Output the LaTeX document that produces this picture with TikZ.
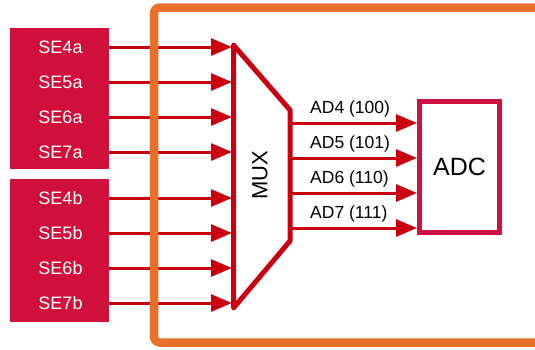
\documentclass[tikz,border=0pt]{standalone}
\usepackage{fontspec}
\setmainfont{Liberation Sans}
\usepackage{xcolor}
\usepackage{tikz}
\usetikzlibrary{arrows.meta}
\definecolor{boxred}{HTML}{D0103A}
\definecolor{wirered}{HTML}{CA0010}
\definecolor{frameorange}{HTML}{E8702A}
\definecolor{adcred}{HTML}{CE1142}
\tikzset{
  wire/.style={draw=wirered, line width=3pt,
               -{Triangle[length=21pt, width=17pt]}},
  sebox/.style={rectangle, fill=boxred, minimum width=99pt, inner sep=0pt},
  selabel/.style={text=white, font=\fontsize{18}{20}\selectfont, inner sep=0pt},
  adlabel/.style={font=\fontsize{17.5}{20}\selectfont, inner sep=0pt}}

\begin{document}
\begin{tikzpicture}[x=1pt, y=-1pt]
  \clip (0,0) rectangle (535,349);
  \fill[white] (0,0) rectangle (535,349);
  % 1: the two groups of inputs
  \node[sebox, minimum height=141pt] (boxa) at (59.5,98.5) {};
  \node[sebox, minimum height=143pt] (boxb) at (59.5,250.5) {};
  % 2: the multiplexer
  \coordinate (muxtl) at (233.5,45);
  \coordinate (muxtr) at (290,110);
  \coordinate (muxbr) at (290,241);
  \coordinate (muxbl) at (233.5,308);
  \draw[wirered, line width=5pt, line join=round] (muxtl) -- (muxtr) -- (muxbr) -- (muxbl) -- cycle;
  \node[rotate=90, font=\fontsize{22}{24}\selectfont, inner sep=0pt] (mux) at (260,175) {MUX};
  \foreach \n/\y in {4/47, 5/82, 6/117, 7/152}{
    \node[selabel] (sea\n) at (60.5,\y) {SE\n{}a};
    \draw[wire] (boxa.east |- sea\n) -- ([xshift=-1.5pt]muxtl |- sea\n);}
  \foreach \n/\y in {4/198, 5/233, 6/268, 7/303}{
    \node[selabel] (seb\n) at (60.5,\y) {SE\n{}b};
    \draw[wire] (boxb.east |- seb\n) -- ([xshift=-1.5pt]muxtl |- seb\n);}
  % 3: the converter and its four channels
  \node[draw=adcred, line width=5pt, fill=white, minimum width=80pt, minimum height=131pt,
        font=\fontsize{25}{27}\selectfont] (adc) at (459.5,166.5) {ADC};
  \foreach \n/\c/\y in {4/100/123, 5/101/158, 6/110/193, 7/111/228}{
    \coordinate (ad\n) at (290,\y);
    \draw[wire] (ad\n) -- (adc.west |- ad\n);
    \node[adlabel, anchor=base west] (lab\n) at (310,\y-10) {AD\n{} (\c)};}
  % outer frame on top, runs off the right side
  \draw[frameorange, line width=8.5pt, rounded corners=6pt] (154,7.5) rectangle (560,342.5);
\end{tikzpicture}
\end{document}
